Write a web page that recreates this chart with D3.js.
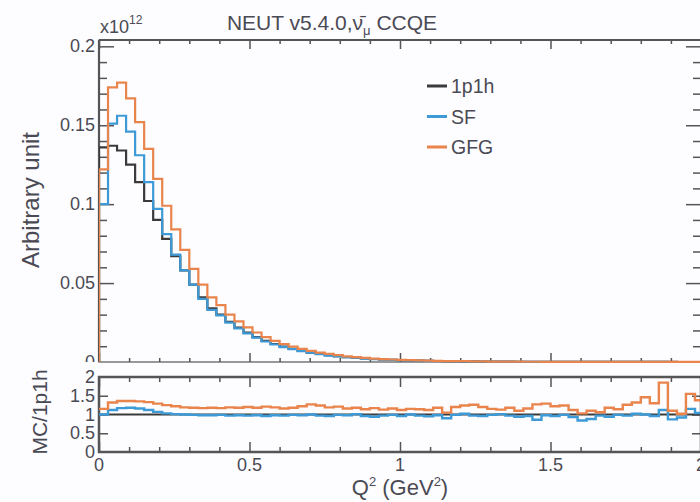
<!DOCTYPE html>
<html>
<head>
<meta charset="utf-8">
<script src="https://cdn.jsdelivr.net/npm/d3@7"></script>
<style>
  html, body { margin: 0; padding: 0; background: #fdfcfe; }
  svg { display: block; }
  text { font-family: "Liberation Sans", Arial, sans-serif; fill: #4a4a55; }
</style>
</head>
<body>
<script>
// Q^2 binning (GeV^2)
const binWidth = 0.03;
const nBins = 67;

// upper panel, arbitrary unit (x10^12)
const val1p1h = [
  0.136, 0.137, 0.134, 0.125, 0.114, 0.102, 0.090, 0.078, 0.067, 0.058,
  0.049, 0.041, 0.034, 0.0300, 0.0255, 0.0218, 0.0186, 0.0158, 0.0134, 0.0114,
  0.0097, 0.0083, 0.0071, 0.0060, 0.0051, 0.0043, 0.0037, 0.0031, 0.0027, 0.0023,
  0.0019, 0.0016, 0.00138, 0.00118, 0.00101, 0.00087, 0.00075, 0.00064, 0.00055, 0.00047,
  0.00040, 0.00034, 0.00029, 0.00025, 0.00022, 0.00019, 0.00016, 0.00014, 0.00012, 0.00011,
  0.000095, 0.000083, 0.000073, 0.000064, 0.000056, 0.000049, 0.000043, 0.000038, 0.000034, 0.000030,
  0.000026, 0.000023, 0.000020, 0.000018, 0.000016, 0.000014, 0.000012
];
const valSF = [
  0.100, 0.151, 0.156, 0.146, 0.131, 0.114, 0.097, 0.081, 0.068, 0.058,
  0.049, 0.040, 0.033, 0.0296, 0.0250, 0.0213, 0.0181, 0.0155, 0.0130, 0.0111,
  0.0094, 0.0082, 0.0069, 0.0059, 0.0049, 0.0041, 0.0036, 0.0030, 0.0027, 0.0022,
  0.0018, 0.0016, 0.00137, 0.00113, 0.00101, 0.00084, 0.00071, 0.00063, 0.00050, 0.00047,
  0.00041, 0.00033, 0.00028, 0.00025, 0.00022, 0.00018, 0.00015, 0.00013, 0.00010, 0.00011,
  0.000091, 0.000082, 0.000068, 0.000054, 0.000049, 0.000048, 0.000040, 0.000038, 0.000033, 0.000031,
  0.000026, 0.000022, 0.000022, 0.000016, 0.000015, 0.000016, 0.000012
];
const valGFG = [
  0.122, 0.174, 0.177, 0.167, 0.152, 0.135, 0.116, 0.099, 0.084, 0.071,
  0.059, 0.049, 0.041, 0.0360, 0.0300, 0.0258, 0.0220, 0.0187, 0.0158, 0.0134,
  0.0114, 0.0097, 0.0083, 0.0071, 0.0060, 0.0051, 0.0043, 0.0036, 0.0031, 0.0026,
  0.0022, 0.0018, 0.0016, 0.00132, 0.00116, 0.00099, 0.00084, 0.00076, 0.00058, 0.00056,
  0.00050, 0.00043, 0.00035, 0.00029, 0.00025, 0.00022, 0.00018, 0.00016, 0.00015, 0.00014,
  0.00012, 0.00010, 0.00008, 0.00007, 0.00006, 0.00005, 0.00005, 0.00004, 0.00004, 0.00004,
  0.00004, 0.00003, 0.00004, 0.00002, 0.00002, 0.00002, 0.00002
];

// lower panel, MC/1p1h
const ratioSF = [
  1.00, 1.12, 1.17, 1.18, 1.16, 1.12, 1.07, 1.03, 1.01, 1.00,
  0.99, 0.98, 0.98, 0.99, 0.97, 0.98, 0.97, 0.98, 0.96, 0.98,
  0.97, 0.99, 0.98, 1.00, 0.97, 0.96, 0.99, 0.98, 1.01, 0.96,
  0.94, 0.97, 0.99, 0.96, 1.00, 0.97, 0.95, 0.98, 0.90, 0.99,
  1.02, 0.97, 0.96, 0.99, 1.01, 0.97, 0.94, 0.96, 0.86, 0.98,
  0.96, 0.99, 0.93, 0.84, 0.88, 0.97, 0.94, 0.99, 0.97, 1.02,
  1.00, 0.96, 1.12, 0.87, 0.92, 1.15, 1.04
];
const ratioGFG = [
  1.15, 1.32, 1.36, 1.36, 1.35, 1.33, 1.29, 1.25, 1.22, 1.19,
  1.18, 1.17, 1.18, 1.17, 1.19, 1.18, 1.20, 1.18, 1.21, 1.19,
  1.16, 1.18, 1.22, 1.27, 1.24, 1.19, 1.21, 1.16, 1.18, 1.14,
  1.17, 1.13, 1.16, 1.12, 1.15, 1.14, 1.12, 1.18, 1.05, 1.20,
  1.24, 1.26, 1.20, 1.15, 1.13, 1.18, 1.10, 1.16, 1.27, 1.29,
  1.22, 1.24, 1.12, 1.03, 1.10, 1.06, 1.18, 1.14, 1.26, 1.32,
  1.46, 1.30, 1.85, 1.10, 1.02, 1.55, 1.38
];

const legendNames = ["1p1h", "SF", "GFG"];
const colors = ["#3a3a3a", "#3d9ad6", "#e9844c"];
const yTicksTop = [0.05, 0.1, 0.15, 0.2];
const yTicksRatio = [0, 0.5, 1, 1.5, 2];
const xTicks = [0, 0.5, 1, 1.5, 2];

const W = 700, H = 502;
const left = 99, right = 701;
const topY0 = 40, topY1 = 362;
const rY0 = 377, rY1 = 452;
const axisCol = "#555";

const svg = d3.select("body").append("svg").attr("width", W).attr("height", H);

const x = d3.scaleLinear().domain([0, 2]).range([left, right]);
const y = d3.scaleLinear().domain([0, 0.204]).range([topY1, topY0]);
const yr = d3.scaleLinear().domain([0, 2]).range([rY1, rY0]);

const defs = svg.append("defs");
defs.append("clipPath").attr("id", "clipTop")
  .append("rect").attr("x", left).attr("y", topY0).attr("width", right - left).attr("height", topY1 - topY0 + 2);
defs.append("clipPath").attr("id", "clipRatio")
  .append("rect").attr("x", left).attr("y", rY0).attr("width", right - left).attr("height", rY1 - rY0);
defs.append("clipPath").attr("id", "clipZero")
  .append("rect").attr("x", 70).attr("y", 340).attr("width", 30).attr("height", 22);

function histPoints(vals) {
  const pts = [[0, 0]];
  vals.forEach((v, i) => pts.push([i * binWidth, v]));
  pts.push([nBins * binWidth, vals[vals.length - 1]]);
  return pts;
}

const lineTop = d3.line().x(d => x(d[0])).y(d => y(d[1])).curve(d3.curveStepAfter);
const lineRatio = d3.line().x(d => x(d[0])).y(d => yr(d[1])).curve(d3.curveStepAfter);

// ---- axes / ticks ----
function xTickAxes(yPos, dir, majorLen, minorLen) {
  const mk = (vals, len) => {
    const g = svg.append("g").attr("transform", `translate(0,${yPos})`)
      .call((dir > 0 ? d3.axisBottom(x) : d3.axisTop(x)).tickValues(vals).tickSize(-len).tickFormat(""));
    g.select(".domain").remove();
    g.selectAll("line").attr("stroke", axisCol).attr("stroke-width", 1.5);
  };
  mk(d3.range(0, 2.001, 0.1).filter(v => Math.abs(v * 2 - Math.round(v * 2)) > 1e-6), minorLen);
  mk(xTicks, majorLen);
}
function yTickAxes(scale, xPos, side, majors, minors, majorLen, minorLen) {
  const mk = (vals, len) => {
    const g = svg.append("g").attr("transform", `translate(${xPos},0)`)
      .call((side === "left" ? d3.axisLeft(scale) : d3.axisRight(scale)).tickValues(vals).tickSize(-len).tickFormat(""));
    g.select(".domain").remove();
    g.selectAll("line").attr("stroke", axisCol).attr("stroke-width", 1.5);
  };
  if (minors.length) mk(minors, minorLen);
  mk(majors, majorLen);
}

const topMinors = d3.range(0.01, 0.2041, 0.01).filter(v => Math.abs(v * 20 - Math.round(v * 20)) > 1e-6);

// upper panel ticks
xTickAxes(topY1, 1, 9, 4);
xTickAxes(topY0, -1, 9, 4);
yTickAxes(y, left, "left", yTicksTop, topMinors, 15, 8);
yTickAxes(y, right, "right", yTicksTop, topMinors, 15, 8);
// lower panel ticks
xTickAxes(rY1, 1, 10, 5);
xTickAxes(rY0, -1, 10, 5);
yTickAxes(yr, left, "left", [0.5, 1, 1.5], [], 9, 0);
yTickAxes(yr, right, "right", [0.5, 1, 1.5], [], 9, 0);

// frames
svg.append("rect").attr("x", left).attr("y", topY0).attr("width", right - left).attr("height", topY1 - topY0)
  .attr("fill", "none").attr("stroke", axisCol).attr("stroke-width", 1.2);
svg.append("line").attr("x1", left).attr("x2", right).attr("y1", topY0).attr("y2", topY0)
  .attr("stroke", axisCol).attr("stroke-width", 2.2);
svg.append("line").attr("x1", left).attr("x2", left).attr("y1", topY0).attr("y2", topY1)
  .attr("stroke", axisCol).attr("stroke-width", 2.2);
svg.append("rect").attr("x", left).attr("y", rY0).attr("width", right - left).attr("height", rY1 - rY0)
  .attr("fill", "none").attr("stroke", axisCol).attr("stroke-width", 2.5);

// ---- histograms ----
const gTop = svg.append("g").attr("clip-path", "url(#clipTop)");
[val1p1h, valSF, valGFG].forEach((vals, i) => {
  gTop.append("path").attr("d", lineTop(histPoints(vals)))
    .attr("fill", "none").attr("stroke", colors[i]).attr("stroke-width", 2.2);
});

const gRatio = svg.append("g").attr("clip-path", "url(#clipRatio)");
gRatio.append("line").attr("x1", x(0)).attr("x2", x(2)).attr("y1", yr(1)).attr("y2", yr(1))
  .attr("stroke", colors[0]).attr("stroke-width", 2.2);
[ratioSF, ratioGFG].forEach((vals, i) => {
  const pts = histPoints(vals);
  pts[0] = [0, vals[0]];
  gRatio.append("path").attr("d", lineRatio(pts))
    .attr("fill", "none").attr("stroke", colors[i + 1]).attr("stroke-width", 2.4);
});

// ---- labels ----
const tickFont = 18;
svg.append("g").selectAll("text").data(yTicksTop).join("text")
  .attr("x", 95).attr("y", d => y(d) + 6).attr("text-anchor", "end")
  .style("font-size", tickFont + "px").text(d => d);
svg.append("text").attr("x", 95).attr("y", topY1 + 6).attr("text-anchor", "end")
  .attr("clip-path", "url(#clipZero)").style("font-size", tickFont + "px").text("0");

svg.append("g").selectAll("text").data(yTicksRatio).join("text")
  .attr("x", 95).attr("y", d => yr(d) + 6).attr("text-anchor", "end")
  .style("font-size", tickFont + "px").text(d => d);

svg.append("g").selectAll("text").data(xTicks).join("text")
  .attr("x", d => x(d)).attr("y", rY1 + 19).attr("text-anchor", "middle")
  .style("font-size", tickFont + "px").text(d => d);

// x10^12
const expo = svg.append("text").attr("x", 100).attr("y", 33).style("font-size", "18px");
expo.append("tspan").text("x10");
expo.append("tspan").attr("dy", -9).style("font-size", "12px").text("12");

// title
const title = svg.append("text").attr("x", 332).attr("y", 30).attr("text-anchor", "middle")
  .style("font-size", "21px");
title.append("tspan").text("NEUT v5.4.0,ν̄");
title.append("tspan").attr("dy", 5).style("font-size", "13px").text("μ");
title.append("tspan").attr("dy", -5).text(" CCQE");

// axis titles
svg.append("text").attr("transform", "translate(39,200) rotate(-90)").attr("text-anchor", "middle")
  .style("font-size", "24px").text("Arbitrary unit");
svg.append("text").attr("transform", "translate(47,412) rotate(-90)").attr("text-anchor", "middle")
  .style("font-size", "21px").text("MC/1p1h");

const xt = svg.append("text").attr("x", 400).attr("y", 495).attr("text-anchor", "middle").style("font-size", "22px");
xt.append("tspan").text("Q");
xt.append("tspan").attr("dy", -9).style("font-size", "13px").text("2");
xt.append("tspan").attr("dy", 9).text(" (GeV");
xt.append("tspan").attr("dy", -9).style("font-size", "13px").text("2");
xt.append("tspan").attr("dy", 9).text(")");

// legend
const leg = svg.append("g");
legendNames.forEach((name, i) => {
  const ly = 86 + i * 30.5;
  leg.append("line").attr("x1", 427).attr("x2", 447).attr("y1", ly).attr("y2", ly)
    .attr("stroke", colors[i]).attr("stroke-width", 3);
  leg.append("text").attr("x", 451).attr("y", ly + 7).style("font-size", "19.5px").text(name);
});
</script>
</body>
</html>
